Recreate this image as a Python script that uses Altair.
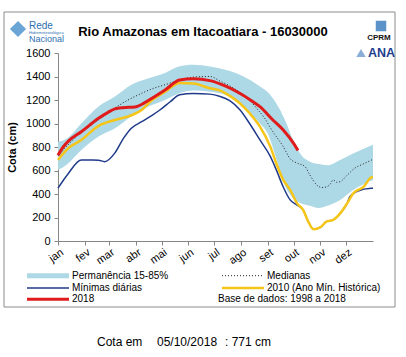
import altair as alt
import pandas as pd

FONT = "Liberation Sans"

months = ["jan", "fev", "mar", "abr", "mai", "jun", "jul", "ago", "set", "out", "nov", "dez"]
month_starts = [0, 31, 59, 90, 120, 151, 181, 212, 243, 273, 304, 334]

# Permanência 15-85% band
band_days = [0, 10, 27, 47, 66, 85, 105, 124, 140, 157, 176, 195, 215, 234, 244, 253, 263, 273, 282, 292, 302, 312, 327, 342, 365]
band_upper = [845, 870, 1000, 1145, 1230, 1330, 1385, 1430, 1485, 1500, 1485, 1455, 1400, 1315, 1260, 1170, 1030, 850, 730, 675, 655, 645, 690, 745, 820]
band_lower = [605, 650, 775, 890, 960, 1060, 1145, 1200, 1255, 1280, 1270, 1240, 1145, 1000, 900, 700, 470, 360, 320, 300, 280, 300, 350, 435, 520]

# Medianas
med_days = [0, 27, 43, 58, 74, 97, 109, 124, 141, 157, 176, 188, 199, 211, 222, 230, 238, 249, 261, 269, 278, 286, 292, 300, 306, 311, 315, 319, 323, 327, 335, 344, 355, 365]
med_vals = [725, 925, 1010, 1090, 1170, 1257, 1295, 1330, 1370, 1395, 1400, 1360, 1320, 1265, 1200, 1130, 1060, 930, 803, 700, 660, 635, 560, 475, 455, 460, 480, 520, 500, 505, 560, 620, 660, 695]

# Mínimas diárias
min_days = [0, 12, 27, 40, 47, 54, 66, 76, 85, 97, 109, 118, 130, 141, 157, 176, 188, 199, 211, 222, 234, 246, 253, 261, 269, 277, 284, 290, 296, 304, 311, 319, 327, 335, 338, 346, 363, 365]
min_vals = [450, 575, 690, 690, 688, 675, 750, 875, 960, 1015, 1070, 1115, 1185, 1245, 1255, 1250, 1230, 1195, 1115, 1000, 860, 720, 605, 460, 350, 305, 265, 165, 100, 117, 165, 180, 235, 320, 375, 420, 450, 450]

# 2010 (Ano Mín. Histórica)
y2010_days = [0, 12, 27, 47, 66, 85, 97, 109, 124, 141, 157, 176, 188, 199, 211, 222, 234, 246, 253, 261, 269, 277, 284, 290, 296, 304, 311, 319, 327, 335, 342, 354, 363, 365]
y2010_vals = [690, 790, 860, 980, 1030, 1070, 1115, 1200, 1270, 1345, 1340, 1300, 1280, 1235, 1170, 1087, 973, 803, 660, 520, 435, 320, 265, 165, 100, 117, 165, 180, 235, 320, 405, 460, 542, 545]

# 2018
y2018_days = [0, 6, 12, 27, 47, 58, 66, 75, 89, 100, 109, 124, 141, 157, 176, 195, 211, 222, 234, 249, 261, 273, 278]
y2018_vals = [730, 800, 850, 930, 1045, 1095, 1125, 1135, 1140, 1175, 1215, 1285, 1370, 1380, 1365, 1315, 1255, 1205, 1143, 1030, 945, 831, 771]

band_df = pd.DataFrame({"day": band_days, "lo": band_lower, "hi": band_upper})
med_df = pd.DataFrame({"day": med_days, "v": med_vals})
min_df = pd.DataFrame({"day": min_days, "v": min_vals})
d2010 = pd.DataFrame({"day": y2010_days, "v": y2010_vals})
d2018 = pd.DataFrame({"day": y2018_days, "v": y2018_vals})

label_expr = ("[" + ",".join("'%s'" % m for m in months) + "][indexof(["
              + ",".join(str(s) for s in month_starts) + "], datum.value)]")

xaxis = alt.Axis(values=month_starts, labelExpr=label_expr, title=None, grid=False,
                 labelAngle=-35, labelAlign="right", labelBaseline="middle",
                 labelPadding=6, labelOffset=4, tickSize=4, labelFontSize=11,
                 labelOverlap=False, labelFlush=False, labelBound=False,
                 labelFont=FONT, labelColor="#000000", domainColor="#868686",
                 tickColor="#868686")
xscale = alt.Scale(domain=[0, 365], nice=False, zero=False)
yaxis = alt.Axis(values=list(range(0, 1601, 200)), format="d", title="Cota (cm)", grid=False, tickSize=4,
                 labelFontSize=11, labelFont=FONT, labelColor="#000000", labelPadding=4,
                 labelOverlap=False, labelFlush=False,
                 domainColor="#868686", tickColor="#868686", titleFont=FONT, titleFontSize=11,
                 titleFontWeight="bold", titleColor="#000000", titlePadding=8)
yscale = alt.Scale(domain=[0, 1600], nice=False)


def X():
    return alt.X("day:Q", scale=xscale, axis=xaxis)


def Y(field):
    return alt.Y(field, scale=yscale, axis=yaxis)


band = alt.Chart(band_df).mark_area(color="#ADD8E6", opacity=1, interpolate="monotone").encode(
    x=X(), y=Y("lo:Q"), y2="hi:Q")
med = alt.Chart(med_df).mark_line(color="#222222", strokeWidth=1, strokeDash=[1, 2], interpolate="monotone").encode(
    x=X(), y=Y("v:Q"))
mins = alt.Chart(min_df).mark_line(color="#1F3A8A", strokeWidth=1.5, interpolate="monotone").encode(
    x=X(), y=Y("v:Q"))
l2010 = alt.Chart(d2010).mark_line(color="#F5C518", strokeWidth=2.5, interpolate="monotone").encode(
    x=X(), y=Y("v:Q"))
l2018 = alt.Chart(d2018).mark_line(color="#E01B1B", strokeWidth=3, interpolate="monotone").encode(
    x=X(), y=Y("v:Q"))

one = pd.DataFrame({"a": [0]})


def txt(s, x, y, size=10, weight="normal", align="left", color="#000000", font=FONT):
    return alt.Chart(one).mark_text(text=s, fontSize=size, fontWeight=weight, align=align,
                                    baseline="middle", color=color, font=font).encode(
        x=alt.value(x), y=alt.value(y))


def rule(x1, x2, y, color, width, dash=None):
    kw = dict(color=color, strokeWidth=width)
    if dash:
        kw["strokeDash"] = dash
    return alt.Chart(one).mark_rule(**kw).encode(x=alt.value(x1), x2=alt.value(x2), y=alt.value(y))


frame = alt.Chart(one).mark_rect(fill=None, stroke="#8C8C8C", strokeWidth=1).encode(
    x=alt.value(-54), x2=alt.value(337), y=alt.value(-41), y2=alt.value(254))

# legend (positions relative to plot origin)
legend = [
    rule(-31, 11, 222.7, "#ADD8E6", 5),
    txt("Permanência 15-85%", 14, 222.7),
    rule(-31, 11, 235, "#1F3A8A", 1.5),
    txt("Mínimas diárias", 14, 235),
    rule(-31, 11, 246.3, "#E01B1B", 3),
    txt("2018", 14, 246.3),
    rule(164, 206, 222.7, "#222222", 1, [1, 2]),
    txt("Medianas", 209, 222.7),
    rule(164, 206, 235, "#F5C518", 2.5),
    txt("2010 (Ano Mín. Histórica)", 209, 235),
    txt("Base de dados: 1998 a 2018", 160, 246.3),
]

title = txt("Rio Amazonas em Itacoatiara - 16030000", 145, -21.3, size=13, weight="bold", align="center")

logos = [
    alt.Chart(one).mark_point(shape="diamond", filled=True, color="#5B9BD0", size=260, opacity=0.9).encode(
        x=alt.value(-40), y=alt.value(-24)),
    txt("Rede", -29, -27, size=10, color="#2F6FB0"),
    txt("Hidrometeorológica", -29, -20, size=4, color="#2F6FB0"),
    txt("Nacional", -29, -14, size=9, color="#2F6FB0"),
    alt.Chart(one).mark_point(shape="square", filled=True, color="#1565B0", size=110).encode(
        x=alt.value(323), y=alt.value(-27)),
    rule(323, 323, -27, "#FFFFFF", 1.5),
    txt("CPRM", 321, -15, size=8, weight="bold", align="center", color="#111111"),
    alt.Chart(one).mark_point(shape="triangle-up", filled=True, color="#5A8BC5", size=90).encode(
        x=alt.value(303), y=alt.value(0)),
    txt("ANA", 323.5, 0, size=12.5, weight="bold", align="center", color="#1E3F8F"),
]

bottom = [
    txt("Cota em", 39, 288.7, size=12),
    txt("05/10/2018", 99, 288.7, size=12),
    txt(": 771 cm", 167, 288.7, size=12),
]

chart = alt.layer(band, med, mins, l2010, l2018, frame, title, *legend, *logos, *bottom).properties(
    width=315, height=188,
    padding={"left": 58, "top": 53, "right": 33, "bottom": 116},
    autosize="none", background="#FFFFFF",
).configure_view(strokeWidth=0)

chart.save("out.html", embed_options={"renderer": "svg", "actions": False})
